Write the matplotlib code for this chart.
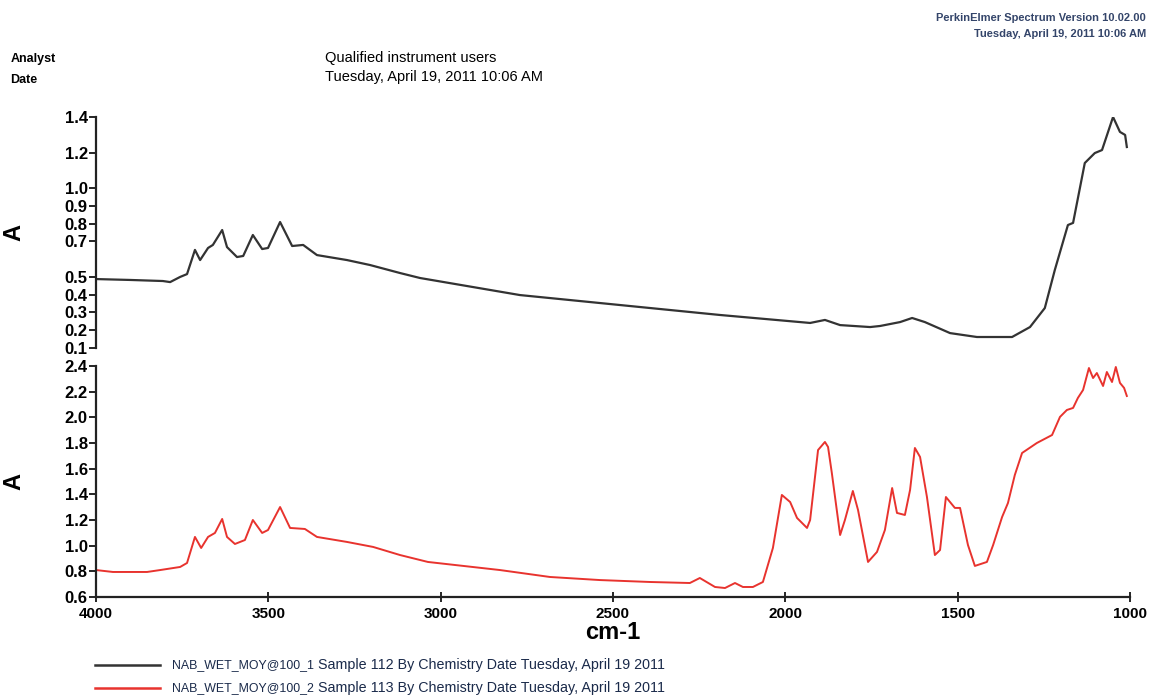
import matplotlib.pyplot as plt
from matplotlib.ticker import FixedLocator

# ----------------------------
# Data
# ----------------------------
wn_1 = [4000, 3901, 3806, 3785, 3756, 3736, 3713, 3698, 3675, 3661, 3634, 3620,
        3591, 3573, 3545, 3518, 3501, 3466, 3431, 3399, 3359, 3272, 3205, 3118,
        3060, 2770, 2480, 2190, 1928, 1885, 1841, 1754, 1725, 1667, 1632, 1595,
        1522, 1444, 1342, 1290, 1247, 1218, 1180, 1165, 1131, 1102, 1081, 1049,
        1029, 1014, 1009]
abs_1 = [0.488, 0.483, 0.477, 0.471, 0.500, 0.516, 0.652, 0.595, 0.663, 0.680,
         0.764, 0.668, 0.612, 0.618, 0.736, 0.657, 0.663, 0.809, 0.674, 0.680,
         0.623, 0.595, 0.567, 0.522, 0.494, 0.398, 0.342, 0.286, 0.241, 0.258,
         0.229, 0.218, 0.224, 0.246, 0.269, 0.246, 0.184, 0.162, 0.162, 0.218,
         0.325, 0.539, 0.792, 0.804, 1.141, 1.197, 1.214, 1.400, 1.316, 1.299,
         1.231]

wn_2 = [4000, 3951, 3852, 3814, 3756, 3736, 3713, 3695, 3675, 3655, 3634, 3620,
        3597, 3568, 3545, 3518, 3501, 3466, 3437, 3394, 3359, 3272, 3196, 3118,
        3037, 2828, 2683, 2538, 2393, 2277, 2248, 2204, 2175, 2146, 2123, 2094,
        2065, 2036, 2010, 1986, 1966, 1937, 1928, 1905, 1885, 1876, 1865, 1841,
        1827, 1804, 1789, 1760, 1734, 1711, 1690, 1676, 1653, 1638, 1624, 1609,
        1589, 1566, 1551, 1534, 1508, 1493, 1470, 1450, 1415, 1397, 1371, 1354,
        1334, 1313, 1270, 1226, 1203, 1183, 1165, 1151, 1136, 1119, 1107, 1096,
        1078, 1067, 1052, 1041, 1029, 1017, 1009]
abs_2 = [0.810, 0.795, 0.795, 0.810, 0.834, 0.865, 1.068, 0.982, 1.068, 1.099,
         1.208, 1.068, 1.013, 1.044, 1.200, 1.099, 1.122, 1.301, 1.138, 1.130,
         1.068, 1.029, 0.990, 0.927, 0.873, 0.810, 0.756, 0.732, 0.717, 0.709,
         0.748, 0.678, 0.670, 0.709, 0.678, 0.678, 0.717, 0.982, 1.395, 1.340,
         1.216, 1.138, 1.200, 1.745, 1.808, 1.769, 1.566, 1.083, 1.200, 1.426,
         1.278, 0.873, 0.951, 1.122, 1.449, 1.255, 1.239, 1.434, 1.761, 1.691,
         1.379, 0.927, 0.966, 1.379, 1.294, 1.294, 1.005, 0.842, 0.873, 1.005,
         1.223, 1.332, 1.551, 1.722, 1.800, 1.862, 2.003, 2.057, 2.073, 2.151,
         2.213, 2.384, 2.306, 2.345, 2.244, 2.353, 2.275, 2.392, 2.268, 2.229,
         2.166]

top_ticks = [0.1, 0.2, 0.3, 0.4, 0.5, 0.7, 0.8, 0.9, 1.0, 1.2, 1.4]
bot_ticks = [0.6, 0.8, 1.0, 1.2, 1.4, 1.6, 1.8, 2.0, 2.2, 2.4]
x_ticks = [4000, 3500, 3000, 2500, 2000, 1500, 1000]

names = ["NAB_WET_MOY@100_1", "NAB_WET_MOY@100_2"]
descr = ["Sample 112 By Chemistry Date Tuesday, April 19 2011",
         "Sample 113 By Chemistry Date Tuesday, April 19 2011"]
colors = ["#333333", "#e8332e"]

plain = ["Liberation Sans", "DejaVu Sans"]

# ----------------------------
# Figure
# ----------------------------
fig = plt.figure(figsize=(11.53, 6.98), dpi=100)
ax1 = fig.add_axes([0.0833, 0.5014, 0.8967, 0.331])
ax2 = fig.add_axes([0.0833, 0.1447, 0.8967, 0.331])

ax1.plot(wn_1, abs_1, color=colors[0], lw=1.6)
ax2.plot(wn_2, abs_2, color=colors[1], lw=1.4)

for ax in [ax1, ax2]:
    ax.set_xlim(4000, 1000)
    for s in ["top", "right"]:
        ax.spines[s].set_visible(False)
    ax.spines["left"].set_linewidth(1.6)
    ax.spines["left"].set_color("#222222")
    ax.tick_params(axis="y", direction="out", length=5, width=1.2, pad=1)
    ax.set_ylabel("A", rotation=90, fontsize=17, fontweight="bold",
                  family=plain)
    ax.yaxis.set_label_coords(-0.068, 0.5)

ax1.set_ylim(0.1, 1.4)
ax1.yaxis.set_major_locator(FixedLocator(top_ticks))
ax1.set_yticklabels([f"{t:.1f}" for t in top_ticks], fontweight="bold",
                    family=plain, fontsize=12)
ax1.spines["bottom"].set_visible(False)
ax1.set_xticks([])

ax2.set_ylim(0.6, 2.4)
ax2.yaxis.set_major_locator(FixedLocator(bot_ticks))
ax2.set_yticklabels([f"{t:.1f}" for t in bot_ticks], fontweight="bold",
                    family=plain, fontsize=12)
ax2.spines["bottom"].set_linewidth(1.6)
ax2.spines["bottom"].set_color("#222222")
ax2.set_xticks(x_ticks)
ax2.set_xticklabels([str(t) for t in x_ticks], fontweight="bold",
                    family=plain, fontsize=11)
ax2.tick_params(axis="x", direction="inout", length=7, width=1.2, pad=4)
ax2.set_xlabel("cm-1", fontsize=17, fontweight="bold", family=plain,
               labelpad=0)

# ----------------------------
# Header text
# ----------------------------
fig.text(0.009, 0.915, "Analyst", fontsize=9, fontweight="bold",
         family=plain, va="center")
fig.text(0.009, 0.885, "Date", fontsize=9, fontweight="bold",
         family=plain, va="center")
fig.text(0.282, 0.917, "Qualified instrument users", fontsize=10.5,
         family=plain, va="center")
fig.text(0.282, 0.890, "Tuesday, April 19, 2011 10:06 AM", fontsize=10.5,
         family=plain, va="center")
fig.text(0.994, 0.974, "PerkinElmer Spectrum Version 10.02.00", fontsize=8,
         fontweight="bold", family=plain, ha="right", va="center",
         color="#34456a")
fig.text(0.994, 0.952, "Tuesday, April 19, 2011 10:06 AM", fontsize=8,
         fontweight="bold", family=plain, ha="right", va="center",
         color="#34456a")

# ----------------------------
# Legend (drawn by hand like the printout)
# ----------------------------
leg_y = [0.047, 0.014]
for i in range(2):
    fig.add_artist(plt.Line2D([0.082, 0.139], [leg_y[i], leg_y[i]],
                              color=colors[i], lw=1.8))
    fig.text(0.149, leg_y[i], names[i], fontsize=8.9, family=plain,
             va="center", color="#1a2a4a")
    fig.text(0.276, leg_y[i], descr[i], fontsize=10.3, family=plain,
             va="center", color="#1a2a4a")

plt.savefig("out.png", dpi=100)
plt.close()
